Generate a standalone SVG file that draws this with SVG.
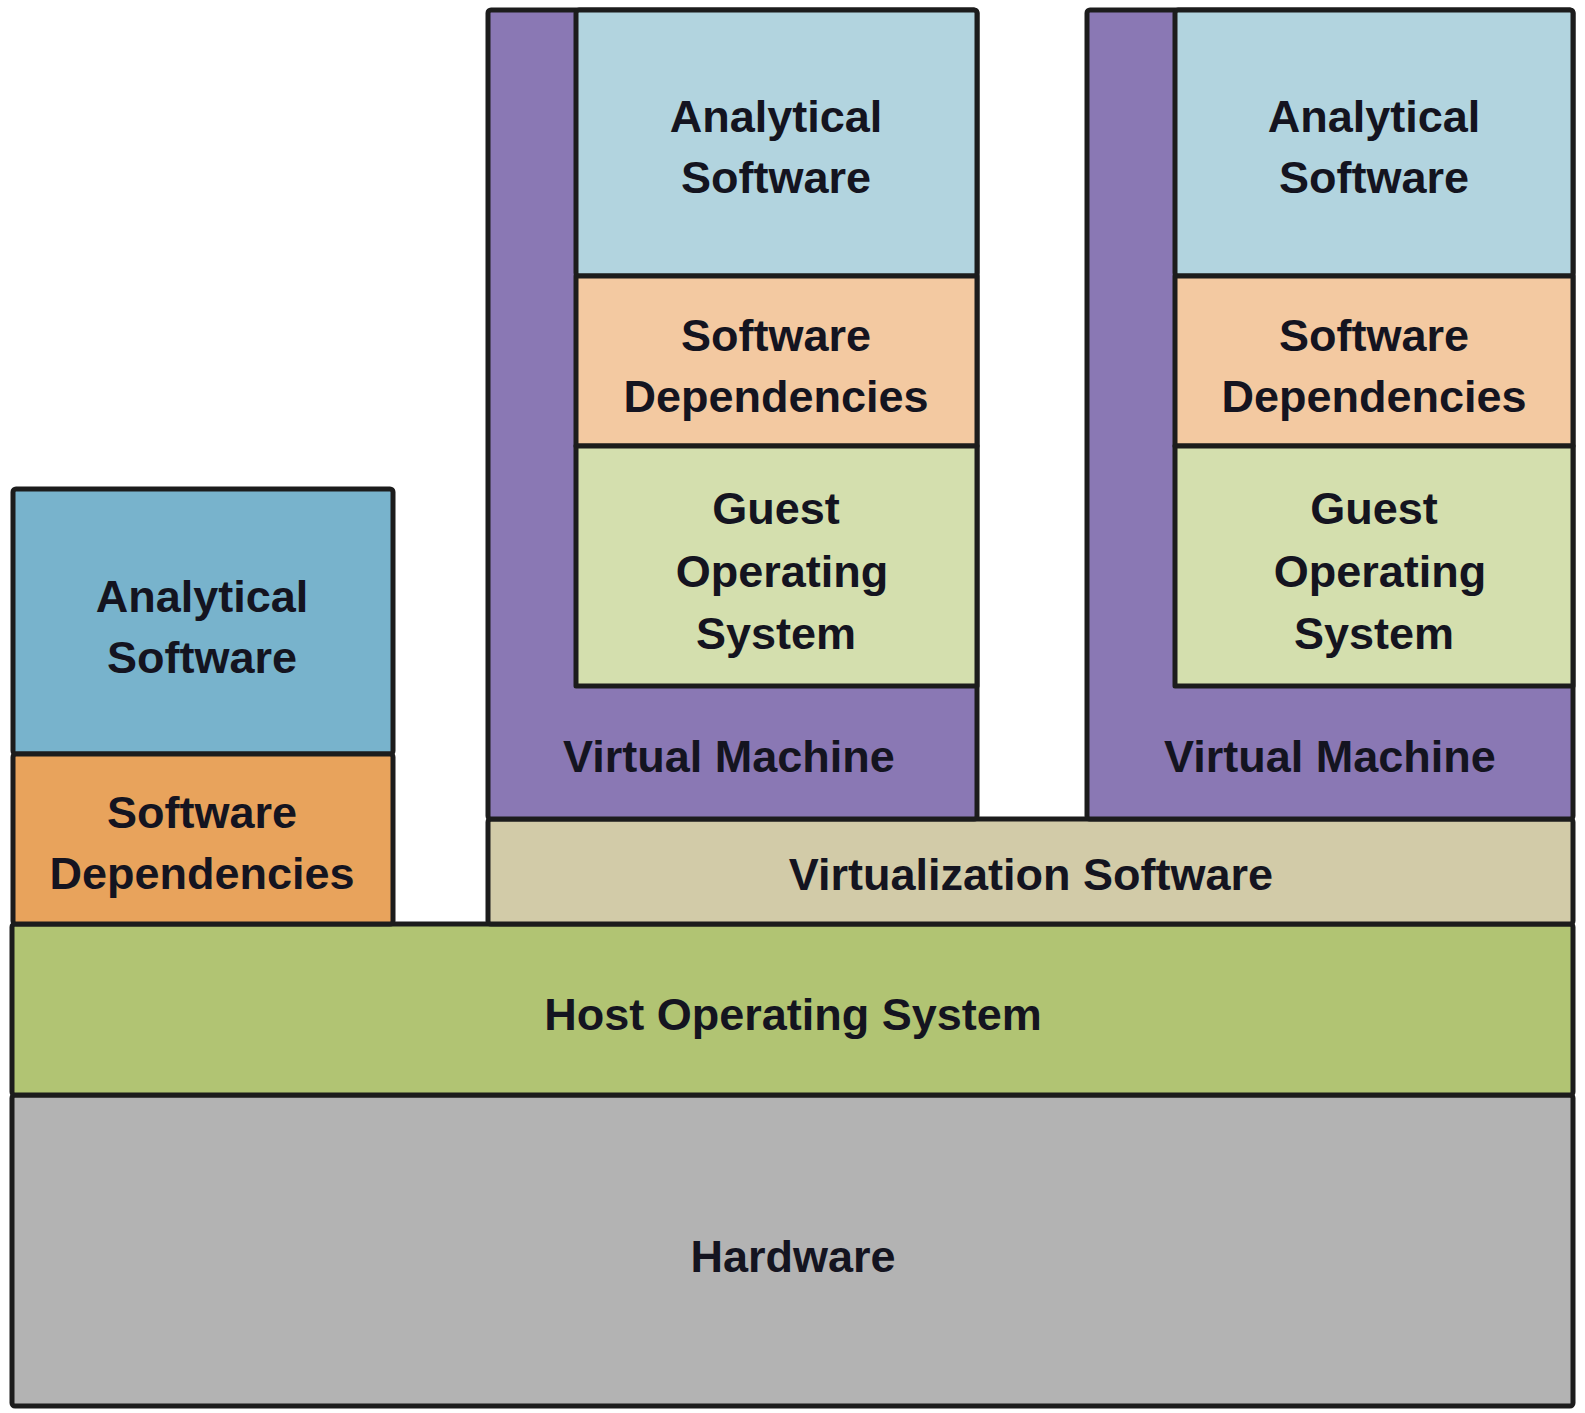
<svg xmlns="http://www.w3.org/2000/svg" width="1585" height="1413" viewBox="0 0 1585 1413">
  <style>
    .box { stroke: #1c1c1c; stroke-width: 5; stroke-linejoin: round; }
    .lbl { font-family: "Liberation Sans", Arial, sans-serif; font-weight: bold; font-size: 45px; fill: #141420; text-anchor: middle; }
    .hw { fill: #b3b3b3; }
    .host { fill: #b1c473; }
    .virt { fill: #d2cba8; }
    .vm { fill: #8a78b4; }
    .app { fill: #78b3cc; }
    .dep { fill: #e8a35c; }
    .vapp { fill: #b2d4df; }
    .vdep { fill: #f3c9a1; }
    .guest { fill: #d4dfae; }
  </style>
  <rect width="1585" height="1413" fill="#ffffff"/>

  <!-- Physical layers -->
  <g id="hardware">
    <rect class="box hw" x="12" y="1095" width="1561" height="311" rx="3"/>
    <text class="lbl" x="793" y="1272">Hardware</text>
  </g>
  <g id="host-os">
    <rect class="box host" x="12" y="924" width="1561" height="171" rx="3"/>
    <text class="lbl" x="793" y="1030">Host Operating System</text>
  </g>
  <g id="virtualization">
    <rect class="box virt" x="488" y="819" width="1085" height="105" rx="3"/>
    <text class="lbl" x="1031" y="890">Virtualization Software</text>
  </g>

  <!-- Native application stack -->
  <g id="native-stack">
    <rect class="box app" x="13" y="489" width="380" height="265" rx="3"/>
    <text class="lbl" x="202" y="612">Analytical</text>
    <text class="lbl" x="202" y="673">Software</text>
    <rect class="box dep" x="13" y="754" width="380" height="170" rx="3"/>
    <text class="lbl" x="202" y="828">Software</text>
    <text class="lbl" x="202" y="889">Dependencies</text>
  </g>

  <!-- Virtual machine 1 -->
  <g id="vm1">
    <rect class="box vm" x="488" y="10" width="489" height="809" rx="3"/>
    <rect class="box vapp" x="576" y="10" width="401" height="266" rx="3"/>
    <text class="lbl" x="776" y="132">Analytical</text>
    <text class="lbl" x="776" y="193">Software</text>
    <rect class="box vdep" x="576" y="276" width="401" height="170"/>
    <text class="lbl" x="776" y="351">Software</text>
    <text class="lbl" x="776" y="412">Dependencies</text>
    <rect class="box guest" x="576" y="446" width="401" height="240"/>
    <text class="lbl" x="776" y="524">Guest</text>
    <text class="lbl" x="782" y="587">Operating</text>
    <text class="lbl" x="776" y="649">System</text>
    <text class="lbl" x="729" y="772">Virtual Machine</text>
  </g>

  <!-- Virtual machine 2 -->
  <g id="vm2">
    <rect class="box vm" x="1087" y="10" width="486" height="809" rx="3"/>
    <rect class="box vapp" x="1175" y="10" width="398" height="266" rx="3"/>
    <text class="lbl" x="1374" y="132">Analytical</text>
    <text class="lbl" x="1374" y="193">Software</text>
    <rect class="box vdep" x="1175" y="276" width="398" height="170"/>
    <text class="lbl" x="1374" y="351">Software</text>
    <text class="lbl" x="1374" y="412">Dependencies</text>
    <rect class="box guest" x="1175" y="446" width="398" height="240"/>
    <text class="lbl" x="1374" y="524">Guest</text>
    <text class="lbl" x="1380" y="587">Operating</text>
    <text class="lbl" x="1374" y="649">System</text>
    <text class="lbl" x="1330" y="772">Virtual Machine</text>
  </g>

  <g id="connectors"/>
</svg>
